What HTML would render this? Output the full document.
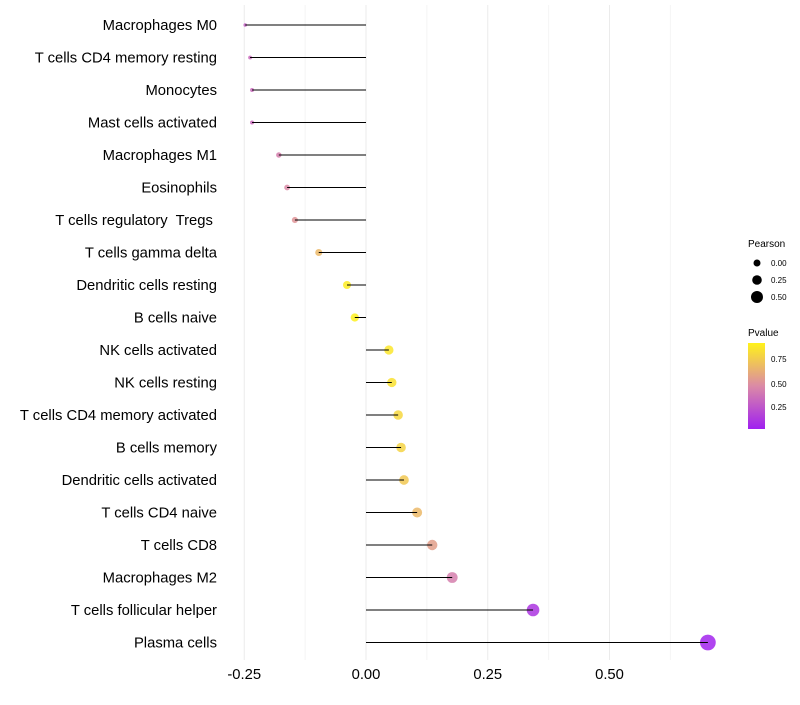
<!DOCTYPE html>
<html><head><meta charset="utf-8"><style>
body{margin:0;background:#fff;font-family:"Liberation Sans",sans-serif}
svg text{font-family:"Liberation Sans",sans-serif;white-space:pre}
</style></head><body>
<svg id="chart" width="800" height="700">
<defs><linearGradient id="pg" x1="0" y1="1" x2="0" y2="0">
<stop offset="0" stop-color="#a020f0"/><stop offset="0.5" stop-color="#db8aa6"/><stop offset="1" stop-color="#fff21a"/></linearGradient></defs>
<g id="grid"></g><g id="marks"></g><g id="ylabels"></g><g id="xlabels"></g>
<g>
<text x="748" y="247" font-size="10">Pearson</text>
<circle cx="757" cy="263" r="3.5" fill="#000"/><text x="771" y="266" font-size="8">0.00</text>
<circle cx="757" cy="280" r="4.8" fill="#000"/><text x="771" y="283" font-size="8">0.25</text>
<circle cx="757" cy="297" r="6" fill="#000"/><text x="771" y="300" font-size="8">0.50</text>
</g>
<g>
<text x="748" y="336" font-size="10">Pvalue</text>
<rect x="748" y="343" width="17" height="86" fill="url(#pg)"/>
<text x="771" y="362" font-size="8">0.75</text>
<text x="771" y="387" font-size="8">0.50</text>
<text x="771" y="410" font-size="8">0.25</text>
</g>
</svg>
<script>
const categories=["Macrophages M0","T cells CD4 memory resting","Monocytes","Mast cells activated","Macrophages M1","Eosinophils","T cells regulatory  Tregs ","T cells gamma delta","Dendritic cells resting","B cells naive","NK cells activated","NK cells resting","T cells CD4 memory activated","B cells memory","Dendritic cells activated","T cells CD4 naive","T cells CD8","Macrophages M2","T cells follicular helper","Plasma cells"];
const pearson=[-0.248,-0.238,-0.234,-0.234,-0.179,-0.162,-0.146,-0.097,-0.039,-0.023,0.047,0.053,0.066,0.072,0.078,0.105,0.136,0.177,0.343,0.702];
const pvalue=[0.3,0.35,0.35,0.35,0.45,0.5,0.55,0.72,0.97,0.99,0.94,0.92,0.87,0.85,0.8,0.72,0.6,0.45,0.1,0.02];
const xTicks=[-0.25,0,0.25,0.5];
const xTickLabels=["-0.25","0.00","0.25","0.50"];
const NS="http://www.w3.org/2000/svg";
const xs=v=>366+v*487;
const ys=i=>25+i*32.5;
function mk(t,a,p){const e=document.createElementNS(NS,t);for(const k in a)e.setAttribute(k,a[k]);p.appendChild(e);return e;}
function lerp(a,b,t){return a.map((x,i)=>Math.round(x+(b[i]-x)*t));}
function col(p){const c0=[160,32,240],c1=[219,138,166],c2=[255,242,26];const c=p<0.5?lerp(c0,c1,p/0.5):lerp(c1,c2,(p-0.5)/0.5);return `rgb(${c})`;}
const grid=document.getElementById('grid');
[-0.25,-0.125,0,0.125,0.25,0.375,0.5,0.625].forEach(v=>{
const l=mk('line',{x1:xs(v),x2:xs(v),y1:5,y2:660,stroke:(v*8)%2===0?'#ebebeb':'#f4f4f4','stroke-width':1},grid);


});
const marks=document.getElementById('marks'),yl=document.getElementById('ylabels'),xl=document.getElementById('xlabels');
categories.forEach((c,i)=>{
const y=ys(i),v=pearson[i];
const r=Math.sqrt(3+62*(v+0.25));
const pt=mk('circle',{cx:xs(v),cy:y,r:r,fill:col(pvalue[i]),'fill-opacity':0.85},marks);


const ln=mk('line',{x1:xs(0),x2:xs(v),y1:y,y2:y,stroke:'#000','stroke-width':1},marks);


const t=mk('text',{x:217,y:y+5,'text-anchor':'end','font-size':14.8,fill:'#000'},yl);
t.textContent=c;


});
xTicks.forEach((v,i)=>{
const t=mk('text',{x:xs(v),y:679,'text-anchor':'middle','font-size':14.8,fill:'#000'},xl);
t.textContent=xTickLabels[i];


});
</script>
</body></html>
